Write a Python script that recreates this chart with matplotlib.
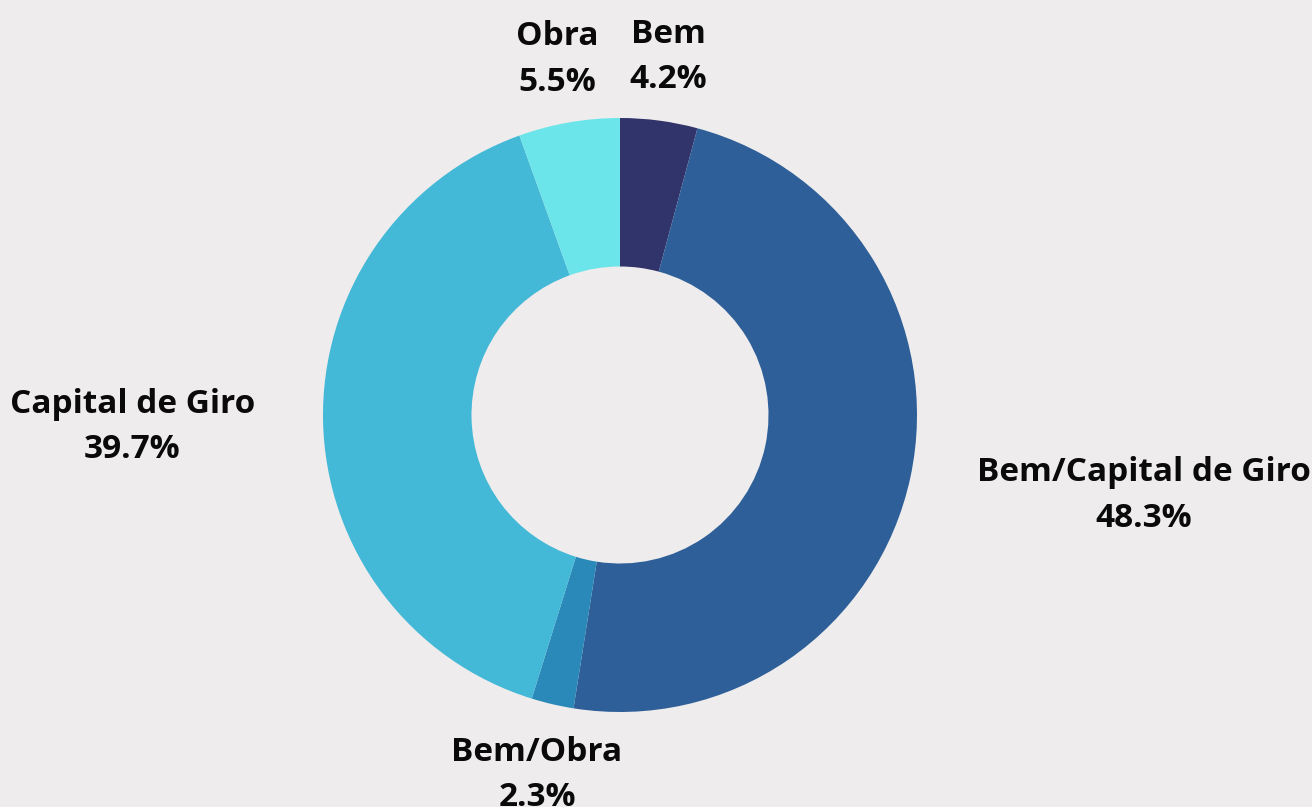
import numpy as np
import matplotlib.pyplot as plt

plt.rcParams['font.family'] = ['Open Sans', 'DejaVu Sans']

categories = ["Bem", "Bem/Capital de Giro", "Bem/Obra", "Capital de Giro", "Obra"]
values = [4.2, 48.3, 2.3, 39.7, 5.5]
colors = ["#31336b", "#2e5f98", "#2a89b8", "#43b8d7", "#6be5e9"]
bg = "#eeecec"

fig = plt.figure(figsize=(13.12, 8.07), dpi=100, facecolor=bg)
# axes sized so that radius 1 ~ 297 px, centred at (620, 415) from top
half = 400
ax = fig.add_axes([(620 - half) / 1312, (392 - half) / 807, 2 * half / 1312, 2 * half / 807])
ax.set_facecolor(bg)

wedges, _ = ax.pie(values, colors=colors, startangle=90, counterclock=False,
                   radius=1.0, wedgeprops=dict(width=0.5, linewidth=0))

lim = half / 297
ax.set_xlim(-lim, lim)
ax.set_ylim(-lim, lim)
ax.set_aspect('equal')
ax.axis('off')

for w, name, v in zip(wedges, categories, values):
    ang = np.deg2rad((w.theta1 + w.theta2) / 2)
    c, s = np.cos(ang), np.sin(ang)
    r = 1.23
    if abs(c) < 0.5:
        ha = 'center'
    elif c > 0:
        ha = 'left'
    else:
        ha = 'right'
    ax.annotate(f"{name}\n{v}%", (r * c, r * s), xytext=(0, -3),
                textcoords='offset points', ha=ha, va='center', ma='center',
                fontsize=24, fontweight='bold', color='#0a0a0a', linespacing=1.5,
                annotation_clip=False)

fig.savefig("out.png", dpi=100, facecolor=bg)
